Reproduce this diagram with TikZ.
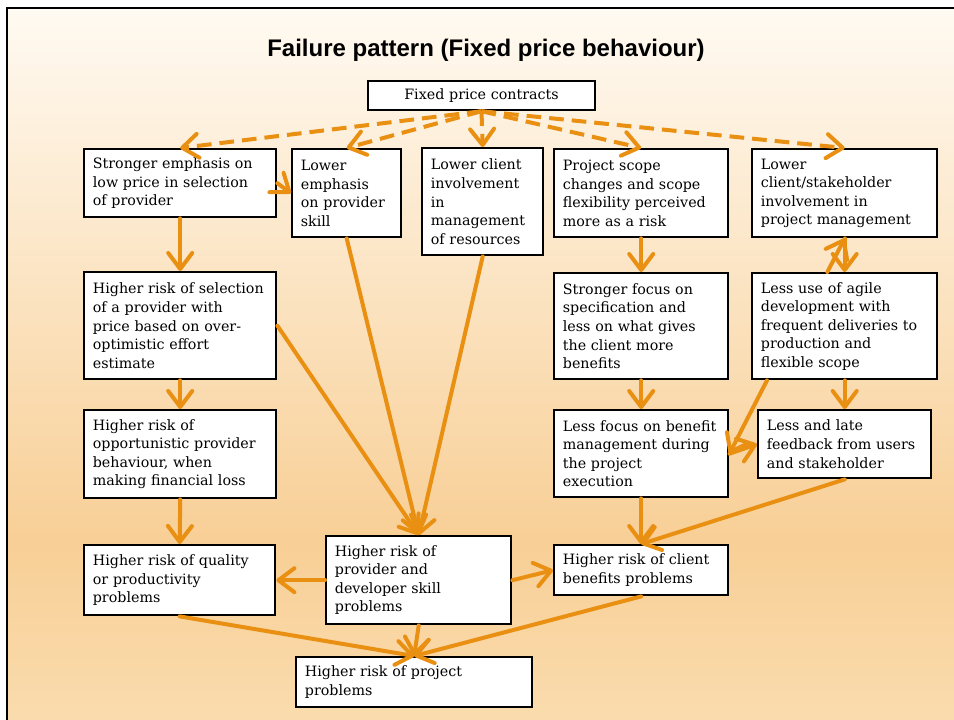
\documentclass[tikz,border=0pt]{standalone}
\usepackage{fontspec}
\setmainfont{DejaVu Serif}
\newfontfamily\titlefont{Liberation Sans}
\usepackage{tikz}
\usetikzlibrary{arrows.meta}
\definecolor{bgtop}{RGB}{255,250,242}
\definecolor{bgmid}{RGB}{248,207,150}
\definecolor{bgbot}{RGB}{250,221,176}
\definecolor{arrowc}{RGB}{233,144,18}
\tikzstyle{box} = [rectangle, draw=black, line width=1.8pt, fill=white, anchor=north west, align=left, inner xsep=6.5pt, inner ysep=2pt, font=\fontsize{10.7}{13.9}\selectfont]
\tikzstyle{topbox} = [box, anchor=center, align=center]
\tikzstyle{link} = [draw=arrowc, line width=3pt, line cap=round, -{Straight Barb[length=12pt,width=18pt,round]}]
\tikzstyle{dlink} = [link, line cap=butt, dash pattern=on 11pt off 6pt]

\begin{document}
\begin{tikzpicture}[x=0.75pt, y=-0.75pt]
\useasboundingbox (0,0) rectangle (954,720);
\clip (0,0) rectangle (954,720);
% Background and frame
\fill[top color=bgtop, bottom color=bgmid] (7,8) rectangle (970,540);
\fill[top color=bgmid, bottom color=bgbot] (7,539) rectangle (970,740);
\draw[line width=1.6pt] (970,8) -- (7,8) -- (7,740);
% Title
\node (title) at (486,50) {\titlefont\bfseries\fontsize{18}{21}\selectfont Failure pattern (Fixed price behaviour)};
% Source
\node[topbox, text width=157.25pt, minimum height=21.75pt] (fixed) at (481.5,95.5) {Fixed price contracts};
% Row 1
\node[box, text width=131pt, minimum height=51pt] (emph) at (83,148) {Stronger emphasis on\\low price in selection\\of provider};
\node[box, text width=68.75pt, minimum height=66pt] (skill) at (291,148) {Lower\\emphasis\\on provider\\skill};
\node[box, text width=77.75pt, minimum height=80.25pt] (involve) at (421,147) {Lower client\\involvement\\in\\management\\of resources};
\node[box, text width=117.5pt, minimum height=66pt] (scope) at (553,148) {Project scope\\changes and scope\\flexibility perceived\\more as a risk};
\node[box, text width=125.75pt, minimum height=66pt] (stake) at (751,148) {Lower\\client/stakeholder\\involvement in\\project management};
% Row 2
\node[box, text width=131pt, minimum height=80.25pt] (select) at (83,271) {Higher risk of selection\\of a provider with\\price based on over-\\optimistic effort\\estimate};
\node[box, text width=117.5pt, minimum height=79.5pt] (spec) at (553,272) {Stronger focus on\\specification and\\less on what gives\\the client more\\benefits};
\node[box, text width=125.75pt, minimum height=79.5pt] (agile) at (751,272) {Less use of agile\\development with\\frequent deliveries to\\production and\\flexible scope};
% Row 3
\node[box, text width=131pt, minimum height=66pt] (oppo) at (83,409) {Higher risk of\\opportunistic provider\\behaviour, when\\making financial loss};
\node[box, text width=117.5pt, minimum height=65.25pt] (benefit) at (553,409) {Less focus on benefit\\management during\\the project\\execution};
\node[box, text width=116.75pt, minimum height=51pt] (feedback) at (757,409) {Less and late\\feedback from users\\and stakeholder};
% Row 4
\node[box, text width=130.25pt, minimum height=52.5pt] (quality) at (83,544) {Higher risk of quality\\or productivity\\problems};
\node[box, text width=125.75pt, minimum height=66pt] (skillrisk) at (325,535) {Higher risk of\\provider and\\developer skill\\problems};
\node[box, text width=117.5pt, minimum height=37.5pt] (clientrisk) at (553,544) {Higher risk of client\\benefits problems};
% Sink
\node[box, text width=164pt, minimum height=37.5pt] (project) at (295,656) {Higher risk of project\\problems};
% Dashed links from the contract type
\draw[dlink] (fixed.south) -- (emph.north);
\draw[dlink] (fixed.south) -- (skill.north);
\draw[dlink] (fixed.south) -- (involve.north);
\draw[dlink] (fixed.south) -- (scope.north);
\draw[dlink] (fixed.south) -- (stake.north);
% Left column
\draw[link] (emph.east) -- (skill.west);
\draw[link] (emph.south) -- (select.north);
\draw[link] (select.south) -- (oppo.north);
\draw[link] (oppo.south) -- (quality.north);
% Into skill risk
\draw[link] (skill.south) -- (skillrisk.north);
\draw[link] (involve.south) -- (skillrisk.north);
\draw[link] (select.east) -- (skillrisk.north);
\draw[link] (skillrisk.west) -- (quality.east);
\draw[link] (skillrisk.east) -- (clientrisk.west);
% Right columns
\draw[link] (scope.south) -- (spec.north);
\draw[link] (spec.south) -- (benefit.north);
\draw[link] (benefit.south) -- (clientrisk.north);
\draw[link] (stake.south) -- (agile.north);
\draw[link] ([xshift=-13pt]agile.north) -- (stake.south);
\draw[link] ([xshift=12pt]agile.south west) -- (benefit.east);
\draw[link] (benefit.east) -- (feedback.west);
\draw[link] (agile.south) -- (feedback.north);
\draw[link] (feedback.south) -- (clientrisk.north);
% Into project risk
\draw[link] (quality.south) -- (project.north);
\draw[link] (skillrisk.south) -- (project.north);
\draw[link] (clientrisk.south) -- (project.north);
\end{tikzpicture}
\end{document}
